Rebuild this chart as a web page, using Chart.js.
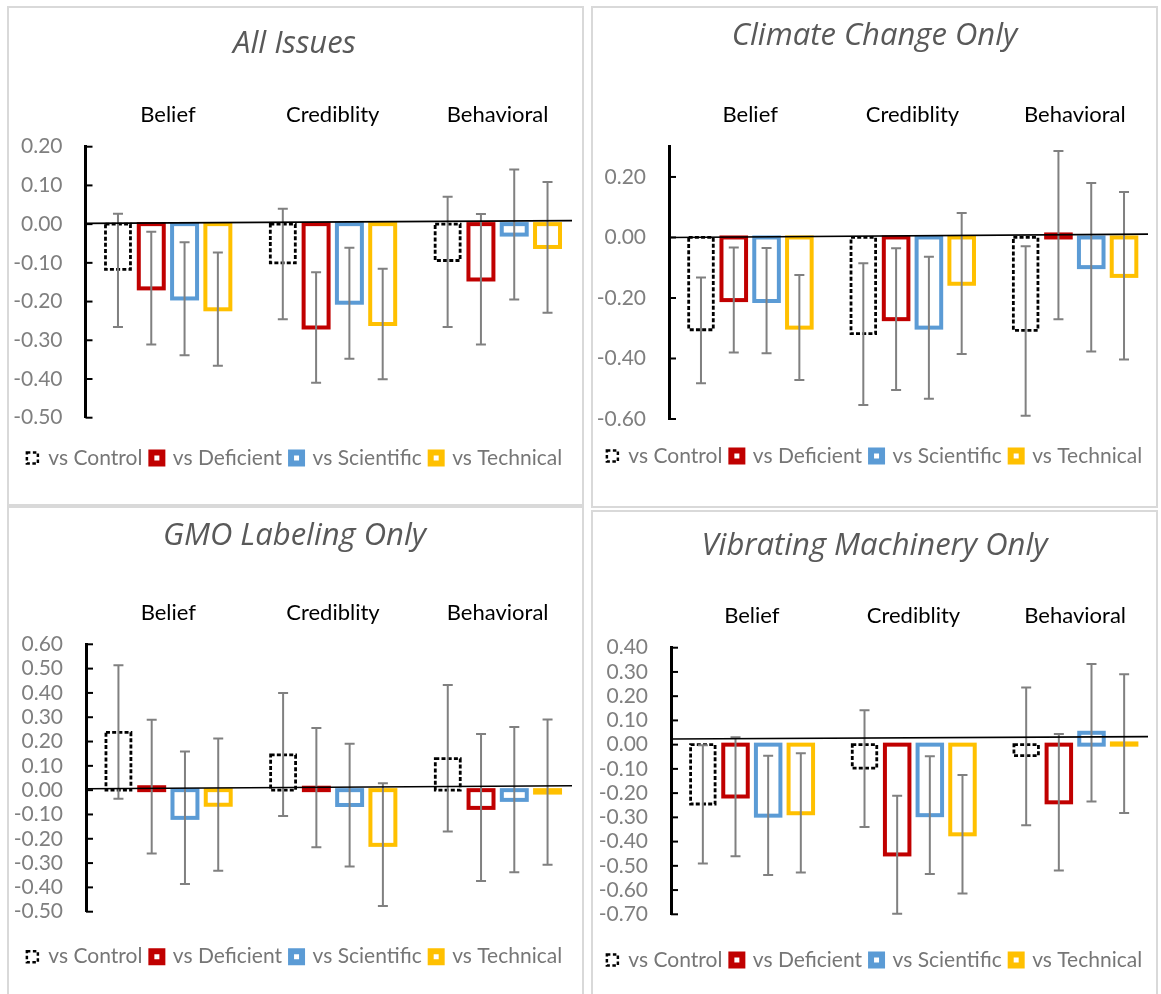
<!DOCTYPE html>
<html lang="en">
<head>
<meta charset="UTF-8">
<script src="https://cdn.jsdelivr.net/npm/chart.js"></script>
<title>Message effects by issue</title>
<style>
    * {
        margin: 0px;
        padding: 0px;
    }

    body {
        width: 1161px;
        height: 994px;
        overflow: hidden;
        background: #fff;
        position: relative;
    }

    .panel {
        position: absolute;
        box-sizing: border-box;
        border: 2px solid #d9d9d9;
        background: #fff;
    }

    .panel canvas {
        display: block;
    }
</style>
</head>
<body>
<div class="panel" style="left:7px;top:6px;width:577px;height:500px"><canvas id="c1" width="573" height="496"></canvas></div>
<div class="panel" style="left:591px;top:6px;width:567px;height:502px"><canvas id="c2" width="563" height="498"></canvas></div>
<div class="panel" style="left:7px;top:506px;width:577px;height:500px"><canvas id="c3" width="573" height="496"></canvas></div>
<div class="panel" style="left:591px;top:510px;width:567px;height:500px"><canvas id="c4" width="563" height="496"></canvas></div>

<script>
    const categories = ['Belief', 'Crediblity', 'Behavioral'];
    const seriesNames = ['vs Control', 'vs Deficient', 'vs Scientific', 'vs Technical'];

    // rows follow seriesNames, columns follow categories
    const allMeans = [
        [-0.117, -0.100, -0.094],
        [-0.166, -0.267, -0.143],
        [-0.192, -0.203, -0.027],
        [-0.220, -0.258, -0.059]
    ];
    const allLow = [
        [-0.266, -0.246, -0.266],
        [-0.311, -0.410, -0.311],
        [-0.339, -0.348, -0.195],
        [-0.366, -0.401, -0.229]
    ];
    const allHigh = [
        [0.027, 0.040, 0.071],
        [-0.020, -0.124, 0.026],
        [-0.047, -0.061, 0.141],
        [-0.073, -0.115, 0.109]
    ];
    const allTicks = [0.2, 0.1, 0, -0.1, -0.2, -0.3, -0.4, -0.5];
    const allRange = [-0.5, 0.2];
    const allZeroLine = [0.002, 0.009];

    const climateMeans = [
        [-0.305, -0.318, -0.307],
        [-0.207, -0.270, 0.010],
        [-0.210, -0.298, -0.098],
        [-0.298, -0.153, -0.127]
    ];
    const climateLow = [
        [-0.482, -0.554, -0.589],
        [-0.380, -0.504, -0.270],
        [-0.383, -0.533, -0.377],
        [-0.471, -0.385, -0.403]
    ];
    const climateHigh = [
        [-0.132, -0.085, -0.029],
        [-0.033, -0.036, 0.286],
        [-0.035, -0.064, 0.180],
        [-0.124, 0.081, 0.150]
    ];
    const climateTicks = [0.2, 0, -0.2, -0.4, -0.6];
    const climateRange = [-0.6, 0.3];
    const climateZeroLine = [0.0, 0.011];

    const gmoMeans = [
        [0.238, 0.145, 0.130],
        [0.012, 0.010, -0.073],
        [-0.114, -0.061, -0.040],
        [-0.060, -0.225, -0.010]
    ];
    const gmoLow = [
        [-0.035, -0.106, -0.170],
        [-0.261, -0.235, -0.374],
        [-0.386, -0.314, -0.338],
        [-0.332, -0.477, -0.307]
    ];
    const gmoHigh = [
        [0.514, 0.400, 0.433],
        [0.290, 0.256, 0.231],
        [0.159, 0.191, 0.260],
        [0.212, 0.028, 0.291]
    ];
    const gmoTicks = [0.6, 0.5, 0.4, 0.3, 0.2, 0.1, 0, -0.1, -0.2, -0.3, -0.4, -0.5];
    const gmoRange = [-0.5, 0.6];
    const gmoZeroLine = [0.006, 0.018];

    const vibMeans = [
        [-0.245, -0.097, -0.045],
        [-0.214, -0.453, -0.238],
        [-0.293, -0.291, 0.049],
        [-0.283, -0.370, 0.005]
    ];
    const vibLow = [
        [-0.490, -0.340, -0.333],
        [-0.460, -0.698, -0.519],
        [-0.538, -0.534, -0.235],
        [-0.528, -0.614, -0.282]
    ];
    const vibHigh = [
        [-0.002, 0.142, 0.236],
        [0.030, -0.211, 0.044],
        [-0.046, -0.048, 0.333],
        [-0.036, -0.125, 0.290]
    ];
    const vibTicks = [0.4, 0.3, 0.2, 0.1, 0, -0.1, -0.2, -0.3, -0.4, -0.5, -0.6, -0.7];
    const vibRange = [-0.7, 0.4];
    const vibZeroLine = [0.023, 0.033];

    // look of the four series
    const outlineColors = ['#000000', '#c00000', '#5b9bd5', '#ffc000'];
    const outlineWidths = [2.8, 4, 4, 4];
    const outlineDashes = [[4, 2.2], [], [], []];

    const TITLE_SIZE = 31;
    const CAT_SIZE = 22;
    const LEGEND_SIZE = 21;
    const LEGEND_PAD = 9;

    Chart.defaults.font.family = 'Lato';

    // bar outlines, error bars, the zero line and inner tick marks
    const marksPlugin = {
        id: 'marks',
        afterDatasetsDraw(chart, args, opts) {
            const ctx = chart.ctx;
            const ys = chart.scales.y;
            const area = chart.chartArea;
            ctx.save();
            chart.data.datasets.forEach((ds, i) => {
                chart.getDatasetMeta(i).data.forEach(bar => {
                    const p = bar.getProps(['x', 'y', 'base', 'width'], true);
                    ctx.lineWidth = ds.outlineWidth;
                    ctx.strokeStyle = ds.outlineColor;
                    ctx.setLineDash(ds.outlineDash);
                    ctx.strokeRect(p.x - p.width / 2, Math.min(p.y, p.base), p.width, Math.abs(p.base - p.y));
                });
            });
            ctx.setLineDash([]);

            ctx.strokeStyle = '#808080';
            ctx.lineWidth = 2;
            chart.data.datasets.forEach((ds, i) => {
                chart.getDatasetMeta(i).data.forEach((bar, j) => {
                    const x = bar.x;
                    const y1 = ys.getPixelForValue(ds.errLow[j]);
                    const y2 = ys.getPixelForValue(ds.errHigh[j]);
                    ctx.beginPath();
                    ctx.moveTo(x, y1);
                    ctx.lineTo(x, y2);
                    ctx.moveTo(x - 5, y1);
                    ctx.lineTo(x + 5, y1);
                    ctx.moveTo(x - 5, y2);
                    ctx.lineTo(x + 5, y2);
                    ctx.stroke();
                });
            });

            ctx.strokeStyle = '#000';
            ctx.lineWidth = 1.6;
            ctx.beginPath();
            ctx.moveTo(area.left, ys.getPixelForValue(opts.zeroLine[0]));
            ctx.lineTo(area.right - 8, ys.getPixelForValue(opts.zeroLine[1]));
            ctx.stroke();

            ctx.lineWidth = 2;
            ys.ticks.forEach(t => {
                const y = ys.getPixelForValue(t.value);
                ctx.beginPath();
                ctx.moveTo(area.left, y);
                ctx.lineTo(area.left + 7, y);
                ctx.stroke();
            });
            ctx.restore();
        }
    };

    function Dibujar(p) {
        const canvas = document.getElementById(p.canvas);
        const H = canvas.height;
        const W = canvas.width;
        const b = p.box;

        const titleLH = TITLE_SIZE * 1.2;
        const titleTop = b.titleY - titleLH / 2;
        const xAxisH = b.top - (titleTop + titleLH);
        const catPad = b.top - b.catY - CAT_SIZE * 1.2 / 2;
        const legendTop = b.legendY - LEGEND_PAD - LEGEND_SIZE / 2;
        const spacerH = legendTop - b.bottom;
        const legendH = LEGEND_SIZE + LEGEND_PAD + 10;
        const padBottom = H - legendTop - legendH;

        const datasets = seriesNames.map((name, i) => ({
            label: name,
            data: p.means[i],
            errLow: p.low[i],
            errHigh: p.high[i],
            xAxisID: 'x',
            yAxisID: 'y',
            backgroundColor: 'rgba(0,0,0,0)',
            borderWidth: 0,
            categoryPercentage: 0.808,
            barPercentage: 0.75,
            outlineColor: outlineColors[i],
            outlineWidth: outlineWidths[i],
            outlineDash: outlineDashes[i]
        }));

        return new Chart(canvas.getContext('2d'), {
            type: 'bar',
            data: { labels: categories, datasets: datasets },
            plugins: [marksPlugin],
            options: {
                responsive: false,
                animation: false,
                devicePixelRatio: 1,
                layout: { padding: { left: 0, right: W - b.right, top: 0, bottom: padBottom } },
                scales: {
                    x: {
                        type: 'category',
                        position: 'top',
                        offset: true,
                        grid: { display: false, drawTicks: false },
                        border: { display: false },
                        ticks: { color: '#000', font: { size: CAT_SIZE }, padding: catPad, maxRotation: 0 },
                        afterFit: s => { s.height = xAxisH; }
                    },
                    xs: {
                        type: 'category',
                        position: 'bottom',
                        display: true,
                        grid: { display: false, drawTicks: false },
                        border: { display: false },
                        ticks: { display: false },
                        afterFit: s => { s.height = spacerH; }
                    },
                    y: {
                        min: p.range[0],
                        max: p.range[1],
                        grid: { display: false, drawTicks: false },
                        border: { display: true, color: '#000', width: 3 },
                        ticks: {
                            autoSkip: false,
                            color: '#7f7f7f',
                            font: { size: 21 },
                            padding: 23,
                            callback: v => v.toFixed(2)
                        },
                        afterBuildTicks: s => { s.ticks = p.ticks.map(v => ({ value: v })); },
                        afterFit: s => { s.width = b.left; }
                    }
                },
                plugins: {
                    marks: { zeroLine: p.zeroLine },
                    tooltip: { enabled: false },
                    title: {
                        display: true,
                        text: p.title,
                        color: '#595959',
                        font: { family: 'Open Sans', size: TITLE_SIZE, style: 'italic', weight: 'normal' },
                        padding: { top: titleTop, bottom: 0 }
                    },
                    legend: {
                        position: 'bottom',
                        labels: {
                            font: { size: LEGEND_SIZE },
                            padding: LEGEND_PAD,
                            boxWidth: 11,
                            boxHeight: 11,
                            generateLabels: chart => chart.data.datasets.map((ds, i) => ({
                                text: ds.label,
                                fillStyle: '#fff',
                                strokeStyle: ds.outlineColor,
                                lineWidth: i === 0 ? 2.5 : 6,
                                lineDash: i === 0 ? [3.5, 2.5] : [],
                                fontColor: '#767676',
                                hidden: false,
                                datasetIndex: i
                            }))
                        }
                    }
                }
            }
        });
    }

    const panels = [
        { canvas: 'c1', title: 'All Issues', means: allMeans, low: allLow, high: allHigh, ticks: allTicks, range: allRange, zeroLine: allZeroLine,
          box: { titleY: 36, catY: 106.5, top: 138.7, bottom: 409.7, legendY: 450, left: 76.5, right: 571 } },
        { canvas: 'c2', title: 'Climate Change Only', means: climateMeans, low: climateLow, high: climateHigh, ticks: climateTicks, range: climateRange, zeroLine: climateZeroLine,
          box: { titleY: 28, catY: 107, top: 138.7, bottom: 411, legendY: 448, left: 76, right: 563 } },
        { canvas: 'c3', title: 'GMO Labeling Only', means: gmoMeans, low: gmoLow, high: gmoHigh, ticks: gmoTicks, range: gmoRange, zeroLine: gmoZeroLine,
          box: { titleY: 28, catY: 105, top: 136.3, bottom: 403.7, legendY: 448.7, left: 77, right: 571 } },
        { canvas: 'c4', title: 'Vibrating Machinery Only', means: vibMeans, low: vibLow, high: vibHigh, ticks: vibTicks, range: vibRange, zeroLine: vibZeroLine,
          box: { titleY: 34.5, catY: 104, top: 135.7, bottom: 402.3, legendY: 448, left: 78, right: 563 } }
    ];

    panels.forEach(Dibujar);
</script>
</body>
</html>
